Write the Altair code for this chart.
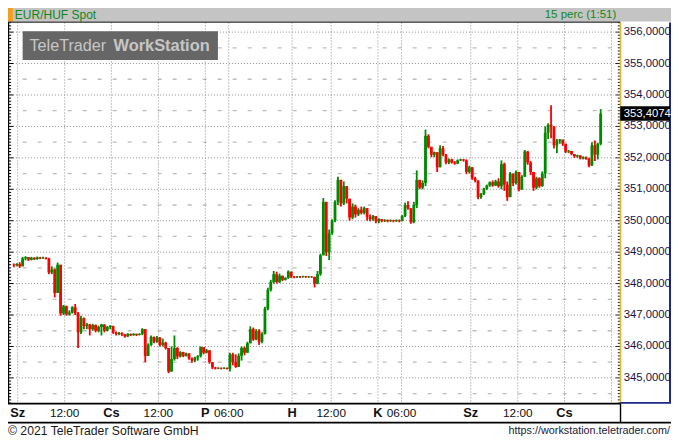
import altair as alt
import pandas as pd
import numpy as np

# ---------------- data ----------------
first_open = 348.60
close = [
    348.58, 348.62, 348.55, 348.80, 348.84, 348.76, 348.82, 348.78, 348.83, 348.80,
    348.82, 348.79, 348.35, 348.45, 347.70, 348.60, 347.05, 347.28, 347.02, 347.08,
    347.25, 347.05, 346.45, 346.90, 346.65, 346.70, 346.55, 346.68, 346.50, 346.62,
    346.70, 346.50, 346.62, 346.65, 346.45, 346.40, 346.43, 346.38, 346.32, 346.40,
    346.36, 346.40, 346.37, 346.40, 346.55, 345.70, 346.05, 346.30, 346.15, 346.28,
    346.05, 346.12, 345.95, 345.20, 345.60, 345.95, 345.68, 345.82, 345.70, 345.78,
    345.62, 345.55, 345.65, 345.70, 345.98, 345.80, 345.88, 345.50, 345.33, 345.30,
    345.32, 345.30, 345.32, 345.29, 345.75, 345.50, 345.35, 345.70, 345.95, 345.80,
    346.10, 346.55, 346.22, 346.50, 346.15, 346.40, 347.20, 347.80, 348.05, 348.30,
    348.05, 348.25, 348.12, 348.18, 348.38, 348.22, 348.20, 348.22, 348.21, 348.23,
    348.21, 348.22, 348.21, 348.00, 348.30, 348.90, 350.60, 349.00, 349.60, 350.00,
    350.60, 351.30, 350.55, 351.10, 350.70, 350.10, 350.45, 350.20, 350.35, 350.25,
    350.40, 350.12, 350.05, 350.15, 349.98, 350.05, 350.00, 350.02, 349.99, 350.01,
    349.99, 350.01, 350.00, 350.15, 350.50, 350.40, 349.95, 350.50, 351.30, 351.05,
    351.20, 352.70, 352.35, 352.10, 352.18, 351.70, 352.30, 352.10, 351.85, 351.95,
    351.85, 351.82, 351.92, 351.95, 351.92, 351.55, 351.70, 351.35, 351.28, 350.75,
    350.85, 351.02, 351.12, 351.22, 351.12, 351.25, 351.10, 351.80, 351.15, 350.75,
    351.50, 351.20, 351.55, 351.00, 351.40, 352.20, 351.85, 351.55, 351.05, 351.35,
    351.10, 351.50, 352.80, 353.05, 353.00, 352.40, 352.55, 352.58, 352.45, 352.20,
    352.22, 352.12, 352.05, 352.08, 351.98, 352.02, 351.97, 351.75, 352.40, 352.10,
    352.45, 353.4074,
]
high = [
    348.64, 348.65, 348.68, 348.85, 348.87, 348.84, 348.85, 348.84, 348.86, 348.85,
    348.85, 348.84, 348.82, 348.55, 348.48, 348.67, 348.30, 347.32, 347.30, 347.15,
    347.28, 347.35, 347.10, 346.98, 346.92, 346.75, 346.72, 346.72, 346.70, 346.66,
    346.72, 346.70, 346.65, 346.68, 346.66, 346.48, 346.46, 346.45, 346.40, 346.42,
    346.41, 346.42, 346.41, 346.42, 346.58, 346.50, 346.10, 346.35, 346.32, 346.33,
    346.30, 346.25, 346.15, 345.95, 346.00, 346.35, 345.98, 345.85, 345.83, 345.80,
    345.78, 345.65, 345.67, 345.72, 346.00, 345.98, 345.92, 345.88, 345.50, 345.35,
    345.34, 345.33, 345.34, 345.33, 345.80, 345.80, 345.75, 345.78, 346.00, 346.00,
    346.15, 346.64, 346.60, 346.55, 346.55, 346.45, 347.26, 347.87, 348.12, 348.40,
    348.38, 348.32, 348.22, 348.20, 348.42, 348.38, 348.24, 348.24, 348.24, 348.25,
    348.24, 348.24, 348.24, 348.22, 348.40, 348.95, 350.72, 350.20, 349.72, 350.05,
    350.65, 351.40, 351.20, 351.25, 351.05, 350.70, 350.55, 350.50, 350.40, 350.45,
    350.45, 350.35, 350.20, 350.18, 350.15, 350.08, 350.05, 350.05, 350.04, 350.04,
    350.03, 350.04, 350.04, 350.18, 350.57, 350.62, 350.40, 350.60, 351.60, 351.30,
    351.28, 352.90, 352.75, 352.30, 352.20, 352.15, 352.40, 352.38, 352.12, 351.98,
    351.97, 351.90, 351.95, 351.97, 351.96, 351.95, 351.75, 351.65, 351.40, 351.28,
    350.88, 351.05, 351.15, 351.25, 351.28, 351.30, 351.35, 351.92, 351.85, 351.25,
    351.55, 351.50, 351.60, 351.55, 351.45, 352.25, 352.22, 351.90, 351.55, 351.40,
    351.38, 351.57, 353.00, 353.10, 353.67, 352.95, 352.60, 352.60, 352.58, 352.45,
    352.25, 352.22, 352.12, 352.10, 352.08, 352.05, 352.04, 352.00, 352.50, 352.55,
    352.48, 353.55,
]
low = [
    348.52, 348.55, 348.50, 348.55, 348.74, 348.72, 348.74, 348.75, 348.76, 348.78,
    348.79, 348.77, 348.30, 348.30, 347.56, 347.80, 346.98, 347.00, 346.98, 346.98,
    347.05, 347.00, 345.95, 346.40, 346.55, 346.55, 346.35, 346.50, 346.45, 346.45,
    346.35, 346.45, 346.48, 346.55, 346.40, 346.35, 346.36, 346.33, 346.28, 346.30,
    346.33, 346.34, 346.33, 346.35, 346.36, 345.50, 345.70, 346.02, 346.10, 346.12,
    346.00, 346.00, 345.90, 345.15, 345.20, 345.55, 345.60, 345.65, 345.66, 345.68,
    345.58, 345.48, 345.50, 345.55, 345.65, 345.75, 345.78, 345.45, 345.28, 345.27,
    345.28, 345.27, 345.28, 345.27, 345.20, 345.40, 345.32, 345.35, 345.55, 345.72,
    345.80, 346.10, 346.18, 346.20, 346.05, 346.10, 346.38, 347.15, 347.75, 348.00,
    348.00, 348.02, 348.08, 348.10, 348.15, 348.18, 348.17, 348.18, 348.18, 348.19,
    348.18, 348.18, 348.18, 347.88, 347.98, 348.25, 348.90, 348.88, 348.75, 349.55,
    349.95, 350.50, 350.45, 350.50, 350.55, 350.00, 350.05, 350.10, 350.15, 350.20,
    350.20, 350.00, 349.98, 350.00, 349.92, 349.92, 349.95, 349.96, 349.95, 349.96,
    349.95, 349.96, 349.95, 349.98, 350.12, 350.35, 349.90, 349.92, 350.40, 351.00,
    351.00, 351.10, 352.30, 352.02, 352.02, 351.55, 351.70, 352.05, 351.80, 351.80,
    351.82, 351.78, 351.80, 351.90, 351.88, 351.48, 351.50, 351.30, 351.22, 350.68,
    350.70, 350.82, 350.98, 351.08, 351.08, 351.10, 351.05, 351.00, 350.95, 350.63,
    350.80, 351.10, 351.15, 350.94, 350.98, 351.40, 351.78, 351.45, 350.95, 351.00,
    351.05, 351.08, 351.35, 352.60, 352.62, 352.30, 352.15, 352.45, 352.38, 352.15,
    352.15, 352.08, 352.00, 352.00, 351.95, 351.95, 351.94, 351.70, 351.85, 351.90,
    351.95, 352.40,
]

# time-axis ticks, in bar-index units
tick_pos = [1.3, 17.4, 33.4, 49.5, 65.6, 73.6, 95.3, 108.7, 124.7, 132.8, 156.5, 172.6, 188.6]
tick_text = ["Sz", "12:00", "Cs", "12:00", "P", "06:00", "H", "12:00", "K", "06:00", "Sz", "12:00", "Cs"]
tick_bold = [True, False, True, False, True, False, True, False, True, False, True, False, True]
extra_grid = [204.7]
y_ticks = list(range(345, 357))
half_levels = [v + 0.5 for v in range(344, 356)]

# ---------------- layout ----------------
FONT = "Liberation Sans"
SX = 663 / 679
SY = 432 / 448
L = 5 * SX
T = 15 * SY
W = 622 * SX
H = 395 * SY
R = 663 - L - W
B = 432 - T - H


def px(x):
    return x * SX - L


def py(y):
    return y * SY - T


xs = alt.Scale(domain=[-0.3344, 207.692], nice=False, zero=False, padding=0)
ys = alt.Scale(domain=[344.1902, 356.3067], nice=False, zero=False, padding=0)

GREEN = "#008a00"
RED = "#ff0000"
GRID = "#8c8c8c"
NAVY = "#1a2a86"
YELLOW = "#e9b62c"

one = pd.DataFrame({"k": [0]})


def rect(x1, y1, x2, y2, color):
    return alt.Chart(one).mark_rect(color=color).encode(
        x=alt.value(px(x1)), x2=alt.value(px(x2)), y=alt.value(py(y1)), y2=alt.value(py(y2)))


def hline(x1, x2, y, color, w=1.0):
    return alt.Chart(one).mark_rule(color=color, strokeWidth=w).encode(
        x=alt.value(px(x1)), x2=alt.value(px(x2)), y=alt.value(py(y)))


def vline(x, y1, y2, color, w=1.0):
    return alt.Chart(one).mark_rule(color=color, strokeWidth=w).encode(
        x=alt.value(px(x)), y=alt.value(py(y1)), y2=alt.value(py(y2)))


def label(s, x, y, size, color, align="left", weight="normal"):
    return alt.Chart(one).mark_text(text=s, align=align, baseline="middle", fontSize=size,
                                    color=color, fontWeight=weight, font=FONT).encode(
        x=alt.value(px(x)), y=alt.value(py(y)))


# ---------------- tables ----------------
n = len(close)
opens = [first_open] + close[:-1]
df = pd.DataFrame({"i": list(range(n)), "open": opens, "close": close, "high": high, "low": low})
df["hi"] = df[["high", "open", "close"]].max(axis=1)
df["lo"] = df[["low", "open", "close"]].min(axis=1)
df["dir"] = np.where(df["close"] >= df["open"], "up", "down")

ydf = pd.DataFrame({"v": y_ticks, "lab": [f"{v:.4f}".replace(".", ",") for v in y_ticks]})
hdf = pd.DataFrame({"v": half_levels})
gdf = pd.DataFrame({"p": tick_pos + extra_grid})
xdf = pd.DataFrame({"p": tick_pos, "t": tick_text, "b": tick_bold})
xdf_bold = xdf[xdf["b"]][["p", "t"]]
xdf_norm = xdf[~xdf["b"]][["p", "t"]]

levels = np.round(np.arange(344.2, 356.31, 0.1), 1)
tdf = pd.DataFrame({"v": levels, "major": np.isclose(levels, np.round(levels))})
minor_df = tdf[~tdf["major"]][["v"]]
major_df = tdf[tdf["major"]][["v"]]

last = close[-1]
ldf = pd.DataFrame({"v": [last], "lab": [f"{last:.4f}".replace(".", ",")]})

Yv = alt.Y("v:Q", scale=ys, axis=None)
color_enc = alt.Color("dir:N", scale=alt.Scale(domain=["up", "down"], range=[GREEN, RED]), legend=None)

layers = []
# header
layers.append(rect(0, 0, 679, 14, "#c4c4c4"))
layers.append(rect(0, 0, 5, 14, "#f5a01a"))

# grid
layers.append(alt.Chart(ydf).mark_rule(color=GRID, strokeDash=[1, 2], strokeWidth=1).encode(
    y=Yv, x=alt.value(px(5)), x2=alt.value(px(620))))
layers.append(alt.Chart(hdf).mark_rule(color="#bdbdbd", strokeDash=[4, 11], strokeWidth=1.3).encode(
    y=Yv, x=alt.value(px(15)), x2=alt.value(px(620))))
layers.append(alt.Chart(gdf).mark_rule(color=GRID, strokeDash=[1, 2], strokeWidth=1).encode(
    x=alt.X("p:Q", scale=xs, axis=None), y=alt.value(0), y2=alt.value(H)))

# watermark
layers.append(rect(15, 24, 215, 54, "#666666"))
layers.append(label("TeleTrader", 22, 39.5, 16.2, "#c6c6c6"))
layers.append(label("WorkStation", 108, 39.5, 16.4, "#c6c6c6", weight="bold"))

# candles
layers.append(alt.Chart(df).mark_rule(strokeWidth=1.8).encode(
    x=alt.X("i:Q", scale=xs, axis=None), y=alt.Y("lo:Q", scale=ys, axis=None), y2="hi:Q", color=color_enc))
layers.append(alt.Chart(df).mark_bar(size=2.8).encode(
    x=alt.X("i:Q", scale=xs, axis=None), y=alt.Y("open:Q", scale=ys, axis=None), y2="close:Q", color=color_enc))

# left scale edge
layers.append(vline(0.6, 15, 410, "#000000", 1.2))
layers.append(alt.Chart(minor_df).mark_rule(color="#000000").encode(
    y=Yv, x=alt.value(px(0)), x2=alt.value(px(3.2))))
layers.append(alt.Chart(major_df).mark_rule(color="#000000").encode(
    y=Yv, x=alt.value(px(0)), x2=alt.value(px(5.5))))

# right scale
layers.append(alt.Chart(minor_df).mark_rule(color="#222222").encode(
    y=Yv, x=alt.value(px(624.5)), x2=alt.value(px(627))))
layers.append(alt.Chart(major_df).mark_rule(color="#222222").encode(
    y=Yv, x=alt.value(px(622)), x2=alt.value(px(627))))
layers.append(vline(627.3, 15, 410, YELLOW, 1.6))
layers.append(vline(678, 15, 410, NAVY, 2))
layers.append(hline(627, 679, 409.5, NAVY, 1.6))

# frame lines
layers.append(hline(0, 627, 14.6, "#2a2a2a", 1.2))
layers.append(hline(0, 627, 410.3, "#000000", 1.6))
layers.append(hline(0, 679, 430, "#000000", 1.6))
layers.append(vline(627.3, 410, 430, "#000000", 1.4))

# right labels and last-price tag
layers.append(alt.Chart(ydf).mark_text(align="left", baseline="middle", fontSize=11.3,
                                       color="#14144a", font=FONT).encode(
    y=Yv, x=alt.value(px(630.5)), text="lab:N"))
layers.append(alt.Chart(ldf).mark_rule(color="#000000", strokeWidth=15 * SY).encode(
    y=Yv, x=alt.value(px(627)), x2=alt.value(px(678))))
layers.append(alt.Chart(ldf).mark_text(align="left", baseline="middle", fontSize=11.3,
                                       color="#ffffff", font=FONT).encode(
    y=Yv, x=alt.value(px(630.5)), text="lab:N"))

# time labels
layers.append(alt.Chart(xdf_bold).mark_text(align="center", baseline="middle", color="#111111",
                                            font=FONT, fontWeight="bold", fontSize=12.8).encode(
    x=alt.X("p:Q", scale=xs, axis=None), y=alt.value(py(420)), text="t:N"))
layers.append(alt.Chart(xdf_norm).mark_text(align="center", baseline="middle", color="#111111",
                                            font=FONT, fontSize=11.8).encode(
    x=alt.X("p:Q", scale=xs, axis=None), y=alt.value(py(420)), text="t:N"))

# header texts and footer
layers.append(label("EUR/HUF Spot", 7, 7.5, 12, "#13861a"))
layers.append(label("15 perc (1:51)", 623, 7.5, 11.5, "#13861a", align="right"))
layers.append(label("\u00a9 2021 TeleTrader Software GmbH", 0, 439, 12.2, "#1a1a1a"))
layers.append(label("https://workstation.teletrader.com/", 678, 439, 10.8, "#1a1a3a", align="right"))

chart = alt.layer(*layers).properties(
    width=W, height=H,
    padding={"left": L, "top": T, "right": R, "bottom": B},
    autosize=alt.AutoSizeParams(type="none"),
    background="white",
).configure_view(stroke=None, fill="white")

chart.save("out.html", embed_options={"renderer": "svg", "actions": False})
